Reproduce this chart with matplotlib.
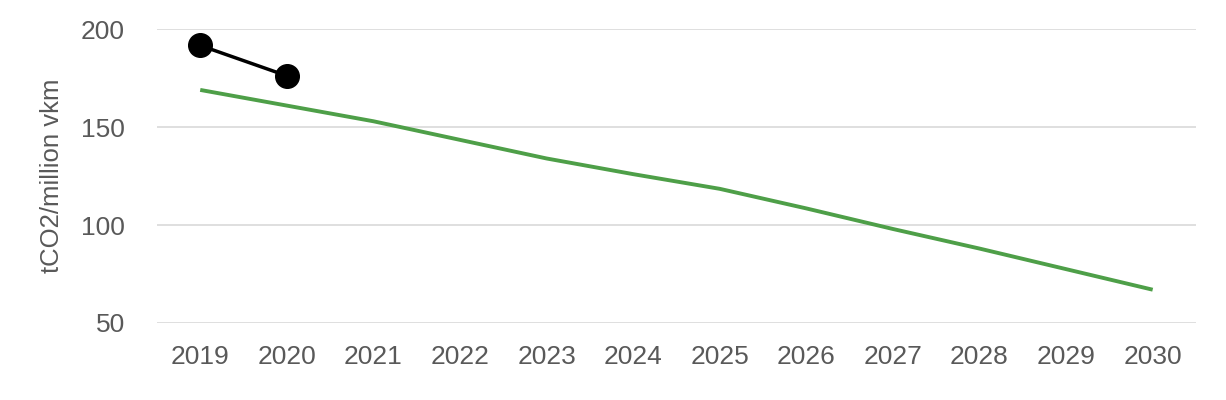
import matplotlib.pyplot as plt

# chart data
years = ['2019', '2020', '2021', '2022', '2023', '2024',
         '2025', '2026', '2027', '2028', '2029', '2030']
target = [169, 161, 153, 143.5, 134, 126, 118.5, 108.5, 98, 88, 77.5, 67]
actual_years = ['2019', '2020']
actual = [191.7, 176.2]

plt.rcParams['font.family'] = ['Liberation Sans', 'DejaVu Sans']

fig = plt.figure(figsize=(12.26, 4), dpi=100)
ax = fig.add_axes([0.128, 0.1925, 0.8475, 0.7345])

x = list(range(len(years)))
ax.plot(x, target, color='#4e9f48', linewidth=2.8, solid_capstyle='butt', zorder=3)

x_actual = [years.index(y) for y in actual_years]
ax.plot(x_actual, actual, color='black', linewidth=2.5, marker='o',
        markersize=17, zorder=4)

ax.set_xlim(-0.5, len(years) - 0.5)
ax.set_ylim(50, 200)
ax.set_yticks([50, 100, 150, 200])
ax.set_xticks(x)
ax.set_xticklabels(years)

ax.grid(axis='y', color='#d9d9d9', linewidth=1.2)
ax.set_axisbelow(True)
for s in ax.spines.values():
    s.set_visible(False)

ax.tick_params(axis='both', length=0, labelsize=19, labelcolor='#595959')
ax.tick_params(axis='y', pad=23)
ax.tick_params(axis='x', pad=16)
ax.set_ylabel('tCO2/million vkm', fontsize=18.5, color='#595959', labelpad=12)

fig.savefig('out.png', dpi=100)
